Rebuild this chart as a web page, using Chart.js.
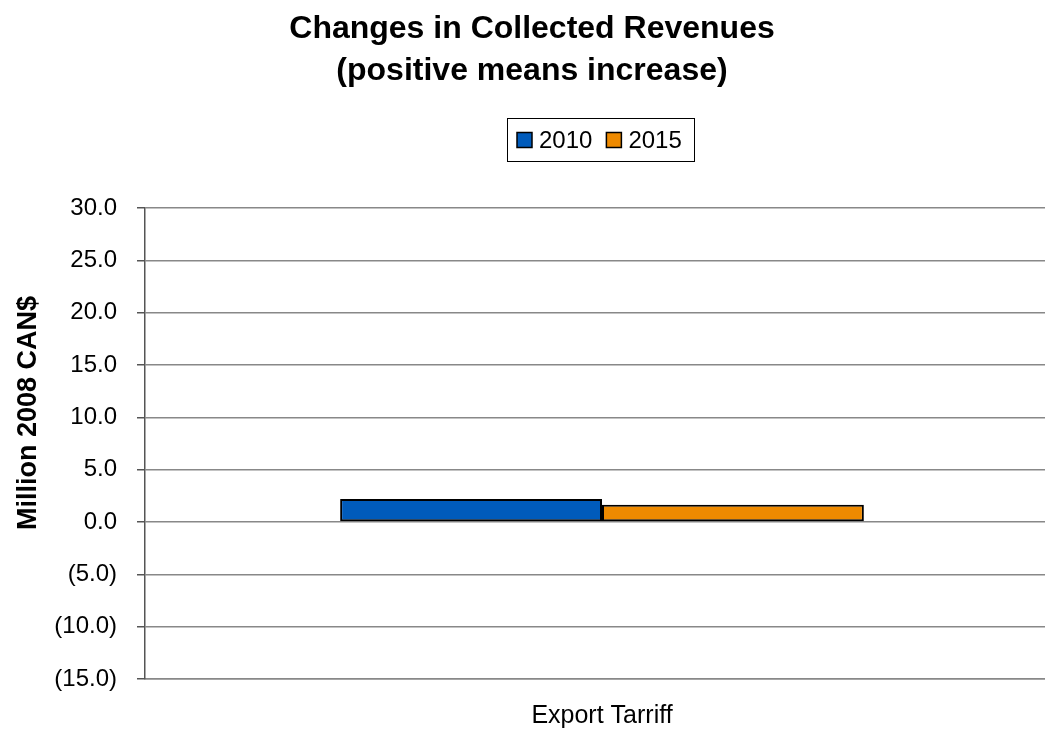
<!DOCTYPE html>
<html>
<head>
<meta charset="utf-8">
<script src="https://cdn.jsdelivr.net/npm/chart.js@4/dist/chart.umd.min.js"></script>
<style>
    html, body { margin: 0; padding: 0; background: #fff; overflow: hidden; }
    #wrap { position: relative; width: 1072px; height: 729px; }
</style>
</head>
<body>
<div id="wrap"><canvas id="revenue-chart" width="1072" height="729"></canvas></div>
<script>
const categories = ['Export Tarriff'];
const seriesNames = ['2010', '2015'];
const seriesValues = [[2.2], [1.65]];
const seriesColors = ['#005BBB', '#EE8A00'];
const titleLines = ['Changes in Collected Revenues', '(positive means increase)'];
const yTitle = 'Million 2008 CAN$';

const FONT = 'Liberation Sans, Arial, sans-serif';

function formatTick(v) {
    const s = Math.abs(v).toFixed(1);
    return v < 0 ? '(' + s + ')' : s;
}

// Title, y axis caption and boxed legend, drawn outside the plot area
const headerPlugin = {
    id: 'header',
    afterDraw(chart) {
        const ctx = chart.ctx;
        ctx.save();
        ctx.fillStyle = '#000';
        ctx.textAlign = 'center';
        ctx.textBaseline = 'middle';
        ctx.font = 'bold 32px ' + FONT;
        ctx.fillText(titleLines[0], 532, 29);
        ctx.fillText(titleLines[1], 532, 71);

        ctx.save();
        ctx.translate(29, 413);
        ctx.rotate(-Math.PI / 2);
        ctx.font = 'bold 27px ' + FONT;
        ctx.fillText(yTitle, 0, 0);
        ctx.restore();

        // legend
        ctx.font = '24px ' + FONT;
        const sets = chart.data.datasets;
        const box = 15, gap = 7, itemGap = 14;
        let total = 0;
        const widths = sets.map(function(ds) {
            const w = box + gap + ctx.measureText(ds.label).width;
            total += w;
            return w;
        });
        total += itemGap * (sets.length - 1);
        const padL = 10, padR = 12;
        const left = 507, cy = 140;
        ctx.strokeStyle = '#000';
        ctx.lineWidth = 1;
        ctx.strokeRect(left + 0.5, 118.5, Math.round(total + padL + padR), 43);
        let x = left + padL;
        ctx.textAlign = 'left';
        sets.forEach(function(ds, i) {
            ctx.fillStyle = ds.backgroundColor;
            ctx.fillRect(x, cy - box / 2, box, box);
            ctx.lineWidth = 1.5;
            ctx.strokeRect(x, cy - box / 2, box, box);
            ctx.fillStyle = '#000';
            ctx.fillText(ds.label, x + box + gap, cy + 1);
            x += widths[i] + itemGap;
        });
        ctx.restore();
    }
};

new Chart(document.getElementById('revenue-chart'), {
    type: 'bar',
    data: {
        labels: categories,
        datasets: seriesNames.map(function(name, i) {
            return {
                label: name,
                data: seriesValues[i],
                backgroundColor: seriesColors[i],
                borderColor: '#000',
                borderWidth: 2,
                borderSkipped: false,
                barPercentage: 1,
                categoryPercentage: 0.573
            };
        })
    },
    options: {
        responsive: false,
        animation: false,
        layout: { padding: { top: 208, right: 13, bottom: 0, left: 0 } },
        plugins: {
            legend: { display: false },
            title: { display: false },
            tooltip: { enabled: false }
        },
        scales: {
            x: {
                grid: { display: false },
                border: { display: true, color: '#888', width: 1.5 },
                ticks: { color: '#000', font: { family: FONT, size: 25 }, padding: 14 },
                afterFit: function(s) { s.height = 50; }
            },
            y: {
                min: -15,
                max: 30,
                grid: { color: '#888', lineWidth: 1.5, tickLength: 8, tickColor: '#555' },
                border: { display: true, color: '#555', width: 1.5 },
                ticks: {
                    stepSize: 5,
                    color: '#000',
                    font: { family: FONT, size: 24 },
                    padding: 20,
                    callback: function(v) { return formatTick(v); }
                },
                afterFit: function(s) { s.width = 145; }
            }
        }
    },
    plugins: [headerPlugin]
});
</script>
</body>
</html>
